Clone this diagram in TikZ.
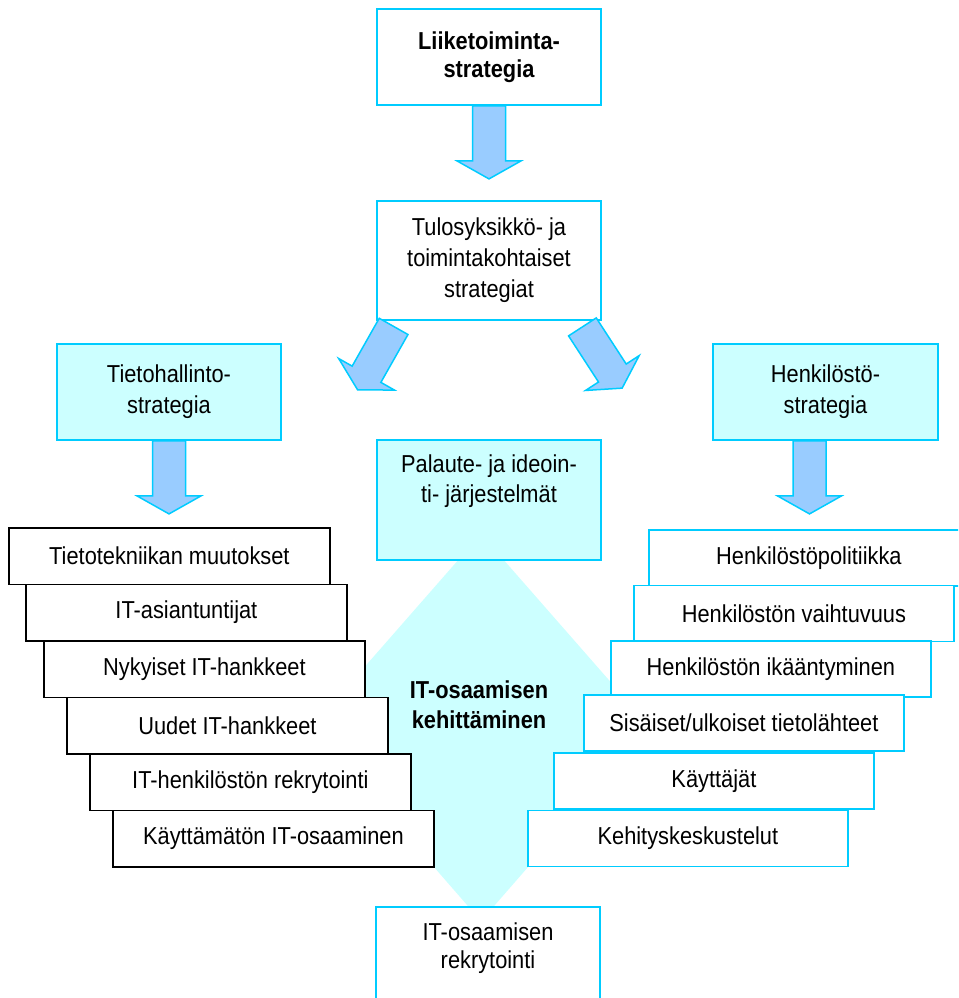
\documentclass[tikz,border=0pt]{standalone}
\usepackage{fontspec}
\setmainfont{Liberation Sans}[FakeStretch=0.89]
\usetikzlibrary{calc}

\definecolor{frame}{RGB}{0,204,255}
\definecolor{paleCyan}{RGB}{204,255,255}
\definecolor{arrowBlue}{RGB}{153,204,255}

\begin{document}
\begin{tikzpicture}[x=1pt, y=-1pt,
  every node/.style={font=\fontsize{24.5pt}{30pt}\selectfont, inner sep=0pt, align=center},
  cbox/.style={draw=frame, line width=1.8pt, fill=white,
               minimum width=224pt, minimum height=96pt},
  tintbox/.style={cbox, fill=paleCyan},
  kbox/.style={draw=black, line width=1.8pt, fill=white, anchor=north west,
               minimum width=321pt, minimum height=56.5pt},
  hbox/.style={draw=frame, line width=1.8pt, fill=white, anchor=north west,
               minimum width=320pt, minimum height=56pt},
  label/.style={anchor=north},
  blockarrow/.style={draw=frame, fill=arrowBlue, line width=1.5pt, line join=miter},
  downblock/.pic={\draw[blockarrow] (-16.5,0) -- (16.5,0) -- (16.5,55) -- (32,55)
                   -- (0,73) -- (-32,55) -- (-16.5,55) -- cycle;}
]
\useasboundingbox (0,0) rectangle (958,998);
\fill[white] (0,0) rectangle (958,998);
\clip (0,0) rectangle (958,998);

% central diamond behind the boxes
\fill[paleCyan] (481,534) -- (650,727) -- (481,921) -- (312,727) -- cycle;
\node (core) at (479,705) {\bfseries IT-osaamisen\\\bfseries kehittäminen};

% strategy boxes
\node[cbox, font=\fontsize{24.5pt}{28pt}\selectfont\bfseries] (top) at (489,57)
  {Liiketoiminta-\\strategia};
\node[cbox, minimum height=119pt, font=\fontsize{24.5pt}{31pt}\selectfont] (tulos) at (489,260.5)
  {Tulosyksikkö- ja\\toimintakohtaiset\\strategiat};
\node[tintbox, font=\fontsize{24.5pt}{31pt}\selectfont] (tieto) at (169,392)
  {Tietohallinto-\\strategia};
\node[tintbox, minimum width=225pt, font=\fontsize{24.5pt}{31pt}\selectfont] (henk) at (825.5,392)
  {Henkilöstö-\\strategia};

% feedback box and recruitment box, text set at the top
\node[tintbox, minimum height=120pt] (pal) at (489,500) {};
\node[label] (paltxt) at ($(pal.north)+(0,15.5)$) {Palaute- ja ideoin-\\ti- järjestelmät};
\node[cbox, minimum height=120pt] (rekry) at (488,967) {};
\node[label, font=\fontsize{24.5pt}{28pt}\selectfont] (rekrytxt) at ($(rekry.north)+(0,16.5)$)
  {IT-osaamisen\\rekrytointi};

% block arrows
\pic at (top.south) {downblock};
\pic at (tieto.south) {downblock};
\pic at ($(henk.south)+(-16,0)$) {downblock};
\pic[rotate=-29.5] at ($(tulos.south west)+(17.5,5.5)$) {downblock};
\pic[rotate=33] at ($(tulos.south east)+(-19.5,6)$) {downblock};

% IT stack
\foreach \n/\xl/\yt/\txt in {
  1/8/527/{Tietotekniikan muutokset},
  2/25/583.5/{IT-asiantuntijat},
  3/43/640/{Nykyiset IT-hankkeet},
  4/66/696.5/{Uudet IT-hankkeet},
  5/89/753/{IT-henkilöstön rekrytointi},
  6/112/809.5/{Käyttämätön IT-osaaminen}}
  \node[kbox] (it\n) at (\xl,\yt) {\txt};

% personnel stack
\foreach \n/\xl/\yt/\txt in {
  1/648/529/{Henkilöstöpolitiikka},
  2/633/584.5/{Henkilöstön vaihtuvuus},
  3/610/640/{Henkilöstön ikääntyminen},
  4/583/694/{Sisäiset/ulkoiset tietolähteet},
  5/553/752/{Käyttäjät},
  6/527/809.5/{Kehityskeskustelut}}
  \node[hbox] (hr\n) at (\xl,\yt) {\txt};
\end{tikzpicture}
\end{document}
